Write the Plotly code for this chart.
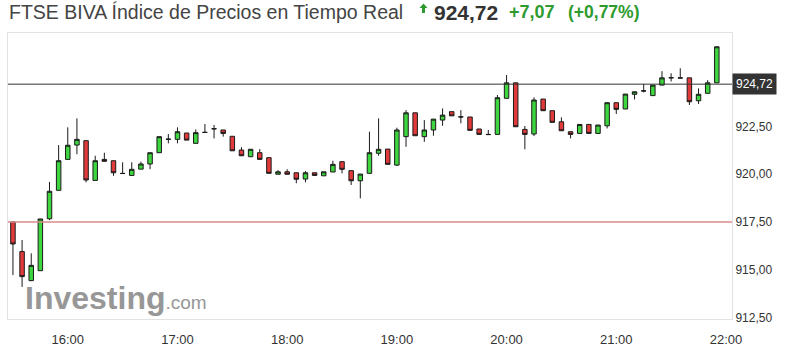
import pandas as pd
import plotly.graph_objects as go

# ---- data (5-minute candles, 15:30 .. 21:55) ----
start_time = "2023-01-02 15:30"
n_candles = 78
opens = [917.50, 915.95, 914.43, 914.95, 917.67, 919.16, 920.78, 921.53, 921.76, 919.68,
         920.78, 920.71, 920.05, 919.94, 920.27, 920.54, 921.13, 921.83, 921.83, 922.16,
         921.62, 922.20, 922.39, 922.32, 921.99, 921.27, 920.92, 921.13, 920.87, 920.00,
         920.13, 920.08, 919.75, 920.08, 919.92, 920.12, 920.66, 920.19, 919.66, 920.05,
         921.10, 921.32, 920.48, 921.97, 923.22, 921.97, 922.32, 922.84, 923.28, 923.00,
         923.00, 922.37, 922.09, 922.09, 923.98, 924.79, 922.35, 922.11, 923.94, 923.33,
         922.75, 922.23, 922.14, 922.61, 922.14, 922.54, 923.75, 923.42, 924.19, 924.36,
         924.12, 924.67, 925.05, 925.05, 925.05, 923.85, 924.24, 924.79]
highs = [917.55, 916.56, 915.86, 917.66, 919.60, 921.53, 922.46, 922.93, 921.76, 920.97,
         921.13, 920.71, 920.63, 920.63, 920.66, 921.13, 921.97, 922.11, 922.46, 922.16,
         922.35, 922.63, 922.58, 922.32, 921.99, 921.42, 921.31, 921.32, 920.87, 920.22,
         920.26, 920.08, 920.17, 920.08, 920.13, 920.71, 920.66, 920.19, 920.01, 922.23,
         922.93, 921.32, 922.44, 923.36, 923.22, 922.84, 922.89, 923.45, 923.28, 923.36,
         923.00, 922.37, 922.32, 924.15, 925.20, 924.79, 922.53, 924.03, 923.94, 923.33,
         922.98, 922.23, 922.61, 922.61, 922.58, 923.75, 923.75, 924.20, 924.32, 924.73,
         924.67, 925.40, 925.29, 925.55, 925.05, 924.50, 924.93, 926.68]
lows = [914.72, 914.10, 914.40, 914.95, 917.60, 919.16, 920.78, 921.05, 919.58, 919.68,
        920.66, 919.92, 920.02, 919.94, 920.27, 920.27, 921.13, 921.62, 921.62, 921.79,
        921.62, 922.18, 921.88, 921.97, 921.23, 920.97, 920.92, 920.78, 920.05, 920.00,
        920.00, 919.53, 919.58, 919.94, 919.92, 920.12, 920.05, 919.44, 918.74, 920.05,
        920.97, 920.52, 920.43, 921.44, 922.02, 921.70, 922.02, 922.54, 923.06, 922.67,
        922.30, 922.09, 922.07, 922.09, 923.98, 922.49, 921.31, 922.00, 923.33, 922.72,
        922.28, 921.88, 922.14, 922.14, 922.14, 922.40, 923.16, 923.42, 923.92, 924.29,
        924.12, 924.67, 924.86, 925.03, 923.63, 923.68, 924.24, 924.79]
closes = [916.35, 914.64, 915.23, 917.66, 919.11, 920.71, 921.52, 921.83, 919.70, 920.71,
          920.68, 920.08, 920.04, 920.26, 920.54, 921.13, 921.97, 921.84, 922.23, 921.79,
          922.18, 922.19, 922.38, 922.14, 921.23, 920.97, 921.31, 920.78, 920.05, 920.13,
          920.00, 919.74, 920.08, 919.94, 920.13, 920.52, 920.26, 919.66, 920.01, 921.13,
          921.31, 920.52, 922.32, 923.22, 922.02, 922.32, 922.89, 923.10, 923.06, 923.01,
          922.30, 922.09, 922.08, 924.01, 924.79, 922.49, 922.09, 923.89, 923.33, 922.72,
          922.28, 922.09, 922.61, 922.14, 922.58, 923.75, 923.40, 924.20, 924.32, 924.37,
          924.67, 925.05, 925.06, 925.04, 923.80, 924.19, 924.79, 926.68]

prev_close = 917.50
last_price = 924.72
change = "+7,07"
change_pct = "(+0,77%)"
title = "FTSE BIVA Índice de Precios en Tiempo Real"
x_tick_labels = ["16:00", "17:00", "18:00", "19:00", "20:00", "21:00", "22:00"]
y_tick_vals = [912.5, 915.0, 917.5, 920.0, 922.5]

times = pd.date_range(start_time, periods=n_candles, freq="5min")
day = start_time.split(" ")[0]
x_tick_vals = [pd.Timestamp(f"{day} {t}") for t in x_tick_labels]

FONT = "Arial, Liberation Sans, sans-serif"
GREEN = "#2d9b2d"

fig = go.Figure()
fig.add_trace(go.Candlestick(
    x=times, open=opens, high=highs, low=lows, close=closes,
    increasing=dict(line=dict(color="#1a1a1a", width=1), fillcolor="#3ed63e"),
    decreasing=dict(line=dict(color="#1a1a1a", width=1), fillcolor="#e23a3a"),
    whiskerwidth=0, showlegend=False, hoverinfo="skip",
))

x0 = times[0] - pd.Timedelta(minutes=2.7)
x1 = pd.Timestamp(f"{day} 22:00") + pd.Timedelta(minutes=3.3)

# reference lines
fig.add_shape(type="line", xref="paper", x0=0, x1=1, y0=prev_close, y1=prev_close,
              line=dict(color="#d98a8a", width=1.3))
fig.add_shape(type="line", xref="paper", x0=0, x1=1, y0=last_price, y1=last_price,
              line=dict(color="#333333", width=1))

fig.update_layout(
    width=789, height=358,
    margin=dict(l=8, r=57, t=33, b=39),
    paper_bgcolor="white", plot_bgcolor="white",
    separators=",.",
    font=dict(family=FONT, color="#333333"),
    xaxis=dict(
        range=[x0, x1], rangeslider=dict(visible=False),
        tickvals=x_tick_vals, ticktext=x_tick_labels,
        showgrid=False, zeroline=False, ticks="", tickfont=dict(size=13, color="#333"),
        ticklabelstandoff=8,
        showline=True, linecolor="#e2e2e2", mirror=True,
    ),
    yaxis=dict(
        range=[912.42, 927.4], side="right",
        tickvals=y_tick_vals, tickformat=".2f",
        showgrid=False, zeroline=False, ticks="", tickfont=dict(size=12, color="#333"),
        showline=True, linecolor="#e2e2e2", mirror=True,
    ),
)

def px(xp):
    return (xp - 8) / 724.0

def py(yp):
    return (319 - yp) / 286.0

# header
fig.add_annotation(xref="paper", yref="paper", x=px(7), y=py(12), xanchor="left", yanchor="middle",
                   text=title, showarrow=False, font=dict(size=19.5, color="#444444", family=FONT))
# small up-arrow icon
arrow_path = "M {},{} L {},{} L {},{} L {},{} L {},{} L {},{} L {},{} L {},{} Z".format(
    px(423.5), py(3.5), px(427.5), py(8), px(425), py(8), px(425), py(13),
    px(422), py(13), px(422), py(8), px(419.5), py(8), px(423.5), py(3.5))
fig.add_shape(type="path", xref="paper", yref="paper", path=arrow_path,
              fillcolor=GREEN, line=dict(width=0))
fig.add_annotation(xref="paper", yref="paper", x=px(432), y=py(12), xanchor="left", yanchor="middle",
                   text=f"<b>{last_price:.2f}</b>".replace(".", ","), showarrow=False,
                   font=dict(size=21, color="#333333", family=FONT))
fig.add_annotation(xref="paper", yref="paper", x=px(507), y=py(12), xanchor="left", yanchor="middle",
                   text=f"<b>{change}</b>", showarrow=False, font=dict(size=18, color=GREEN, family=FONT))
fig.add_annotation(xref="paper", yref="paper", x=px(566), y=py(12), xanchor="left", yanchor="middle",
                   text=f"<b>{change_pct}</b>", showarrow=False, font=dict(size=17.5, color=GREEN, family=FONT))

# price label on axis
fig.add_annotation(xref="paper", yref="y", x=1, y=last_price, xanchor="left", yanchor="middle",
                   text=f"{last_price:.2f}".replace(".", ","), showarrow=False,
                   bgcolor="#333333", borderpad=3, font=dict(size=12, color="white", family=FONT))

# watermark
fig.add_annotation(xref="paper", yref="paper", x=px(23), y=py(298), xanchor="left", yanchor="middle",
                   text="<b>Investing</b><span style='font-weight:normal;font-size:19px'>.com</span>",
                   showarrow=False, font=dict(size=32, color="#8c8c8c", family=FONT), opacity=0.9)

fig.write_html("out.html")
